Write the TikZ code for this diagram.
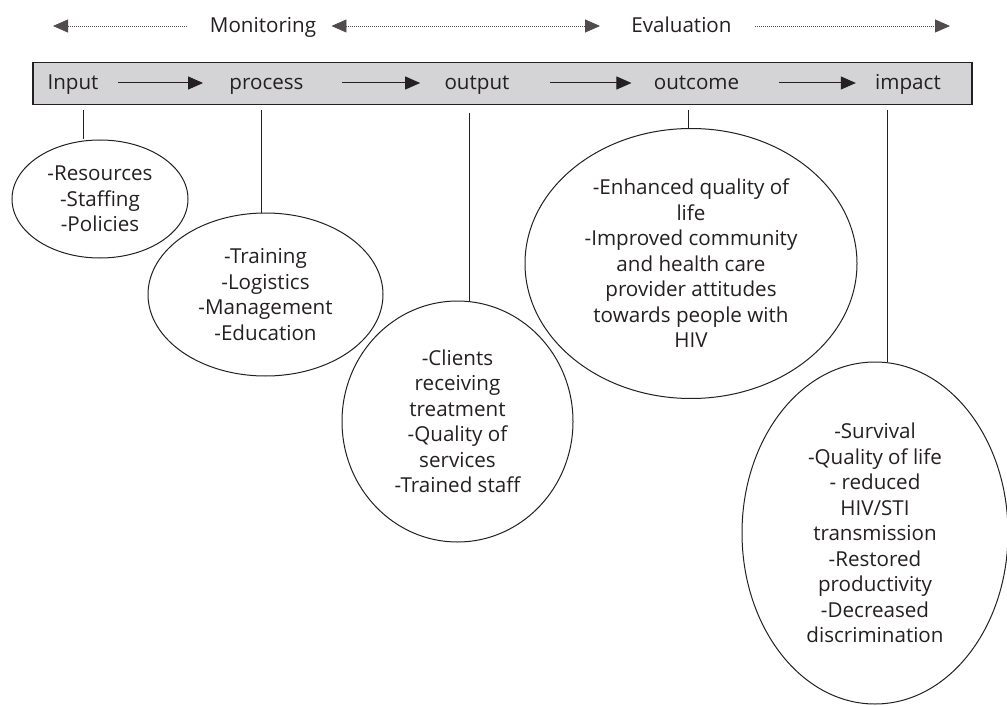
\documentclass[tikz,border=0pt]{standalone}
\usepackage{fontspec}
\setmainfont{Open Sans}
\usetikzlibrary{arrows.meta, shapes.geometric}
\definecolor{qianhui}{rgb}{0.83,0.83,0.84}
\definecolor{mohei}{rgb}{0.14,0.12,0.13}
\tikzset{
	lab/.style={inner sep=0pt, text height=1.5ex, text depth=.25ex, text=mohei},
	bubble/.style={draw=mohei, ellipse, inner sep=0pt, align=center, line width=0.5pt, text=mohei},
	flow/.style={-{Triangle[length=7.5pt,width=6.5pt]}, line width=0.5pt, mohei},
	dotflow/.style={dash pattern=on 0.4pt off 0.6pt, line width=0.4pt, mohei!80},
	tip/.tip={Triangle[length=7.5pt,width=6.5pt]},
}
\begin{document}
\begin{tikzpicture}[x=0.5pt, y=-0.5pt, font=\fontsize{10.3}{12.75}\selectfont]
			\useasboundingbox (0,0) rectangle (1007,706);
			% monitoring / evaluation
			\node[lab] (mon) at (263,26) {Monitoring};
			\node[lab] (eva) at (681.5,26) {Evaluation};
			\coordinate (le) at (53,26);
			\coordinate (ri) at (950,26);
			\draw[dotflow, -tip, shorten <=11.5pt] (mon) -- (le);
			\draw[dotflow, tip-tip, shorten <=7.5pt, shorten >=15.5pt] (mon) -- (eva);
			\draw[dotflow, -tip, shorten <=11.5pt] (eva) -- (ri);
			% results chain
			\node[draw=mohei, fill=qianhui, line width=0.75pt, minimum width=469.5pt, minimum height=21pt, anchor=north west, inner sep=0pt] (bar) at (32,62) {};
			\node[lab] (in) at (73,83) {Input};
			\node[lab] (pr) at (266.5,83) {process};
			\node[lab] (ou) at (477,83) {output};
			\node[lab] (oc) at (696.5,83) {outcome};
			\node[lab] (im) at (908,83) {impact};
			\draw[flow, shorten <=9.5pt, shorten >=13pt] (in) -- (pr);
			\draw[flow, shorten <=19pt, shorten >=12pt] (pr) -- (ou);
			\draw[flow, shorten <=20pt, shorten >=11pt] (ou) -- (oc);
			\draw[flow, shorten <=19.5pt, shorten >=9.5pt] (oc) -- (im);
			% bubbles
			\node[bubble, minimum width=88pt, minimum height=59pt] (res) at (100,199) {-Resources\\-Staffing\\-Policies};
			\node[bubble, minimum width=117.5pt, minimum height=81.5pt] (act) at (265.5,294.5) {-Training\\-Logistics\\-Management\\-Education};
			\node[bubble, minimum width=115.5pt, minimum height=120.5pt] (out) at (457.5,421.5) {-Clients\\receiving\\treatment\\-Quality of\\services\\-Trained staff};
			\node[bubble, minimum width=166pt, minimum height=135pt] (eff) at (691,263.5) {-Enhanced quality of\\life\\-Improved community\\and health care\\provider attitudes\\towards people with\\HIV};
			\node[bubble, minimum width=133pt, minimum height=171pt] (imp) at (875,533) {-Survival\\-Quality of life\\- reduced\\HIV/STI\\transmission\\-Restored\\productivity\\-Decreased\\discrimination};
			% links
			\coordinate (t1) at (83,110);
			\coordinate (t2) at (261,110);
			\coordinate (t3) at (469,113);
			\coordinate (t4) at (688,110);
			\coordinate (t5) at (887,110);
			\draw[mohei, line width=0.5pt] (t1) -- (t1 |- res.north);
			\draw[mohei, line width=0.5pt] (t2) -- (t2 |- act.north);
			\draw[mohei, line width=0.5pt] (t3) -- (t3 |- out.north);
			\draw[mohei, line width=0.5pt] (t4) -- (t4 |- eff.north);
			\draw[mohei, line width=0.5pt] (t5) -- (t5 |- imp.north);
		\end{tikzpicture}
\end{document}
